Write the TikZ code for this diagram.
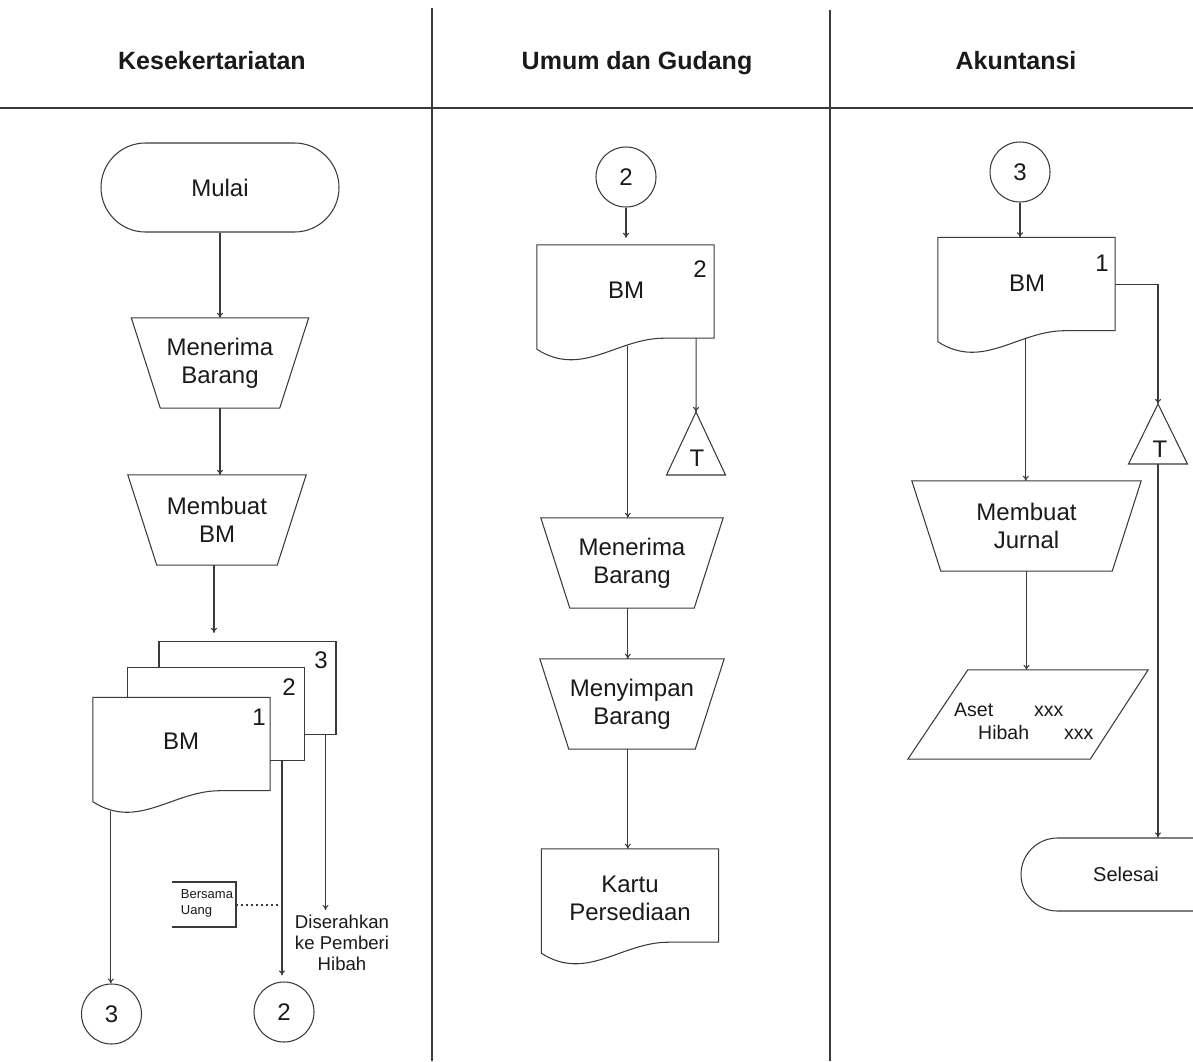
\documentclass[tikz,border=0pt]{standalone}
\usepackage{fontspec}
\setmainfont{Liberation Sans}
\usetikzlibrary{arrows.meta,calc,shapes.misc}
\definecolor{lc}{HTML}{3A3A3A}
\definecolor{tc}{HTML}{1A1A1A}
\tikzset{
 ln/.style={draw=lc, line width=1.05pt},
 arr/.style={ln, -{To[length=5pt,width=6pt]}},
 txt/.style={text=tc, font=\fontsize{24}{28}\selectfont, align=center, inner sep=0},
 hdr/.style={text=tc, font=\bfseries\fontsize{25}{30}\selectfont, inner sep=0, anchor=base},
 term/.style={rounded rectangle, ln, txt, minimum width=238, minimum height=89},
 conn/.style={circle, ln, txt, minimum size=60},
 docbox/.style={rectangle, minimum width=177, minimum height=93, inner sep=0},
 trapbox/.style={rectangle, txt, minimum height=90},
 num/.style={txt},
 dotl/.style={ln, dash pattern=on 2pt off 3pt},
}
\newcommand\trapshape[1]{\draw[ln] (#1.north west) -- (#1.north east) -- ($(#1.south east)+(-29,0)$) -- ($(#1.south west)+(29,0)$) -- cycle;}
\newcommand\docshape[1]{\draw[ln, fill=white] (#1.south east) -- (#1.north east) -- (#1.north west) -- ($(#1.south west)+(0,11)$) .. controls ($(#1.south west)+(45,40)$) and ($(#1.south west)+(80,0)$) .. ($(#1.south west)+(127,0)$) -- cycle;}
\begin{document}
\begin{tikzpicture}[x=1pt,y=-1pt]
\useasboundingbox[fill=white] (0,0) rectangle (1193,1061);
% lanes
\draw[ln] (0,108) -- (1193,108);
\draw[ln] (432,8) -- (432,1061);
\draw[ln] (830,10) -- (830,1061);
\node[hdr] (h1) at (212,69) {Kesekertariatan};
\node[hdr] (h2) at (637,69) {Umum dan Gudang};
\node[hdr] (h3) at (1016,69) {Akuntansi};

% ---- Lane 1
\node[term] (mulai) at (220,187.5) {Mulai};
\node[trapbox, minimum width=177] (mt1) at (220,363) {Menerima\\Barang};
\trapshape{mt1}
\node[trapbox, minimum width=178] (mbm1) at (217,520) {Membuat\\BM};
\trapshape{mbm1}
\draw[arr] (mulai.south) -- (mulai.south |- mt1.north);
\draw[arr] (mt1.south) -- (mt1.south |- mbm1.north);

\node[docbox, ln, fill=white] (d3) at (247.5,688) {};
\node[num] (n3) at (321,660) {3};
\node[docbox, ln, fill=white] (d2) at (216,714) {};
\node[num] (n2) at (289,687) {2};
\node[docbox] (d1) at (181.5,744) {};
\docshape{d1}
\node[txt] (d1t) at (181,741) {BM};
\node[num] (n1) at (259,717) {1};
\coordinate (mbo) at ($(mbm1.south)+(-3,0)$);
\draw[arr, shorten >=8pt] (mbo) -- (mbo |- d3.north);

\coordinate (d1o) at ($(d1.south west)+(18,20)$);
\node[conn] (c3a) at (111.5,1014) {3};
\draw[arr] (d1o) -- (d1o |- c3a.north);
\coordinate (d2o) at ($(d2.south west)+(155,0)$);
\node[conn] (c2a) at (284,1012) {2};
\draw[arr, shorten >=6pt] (d2o) -- (d2o |- c2a.north);
\coordinate (d3o) at ($(d3.south west)+(167,0)$);
\node[txt, font=\fontsize{18.6}{21}\selectfont, inner ysep=5pt] (dis) at (342,943) {Diserahkan\\ke Pemberi\\Hibah};
\draw[arr] (d3o) -- (d3o |- dis.north);

\node[txt, font=\fontsize{13}{16}\selectfont, align=left] (bers) at (207,903) {Bersama\\Uang};
\draw[ln] ($(bers.center)+(-35,-21)$) -- ($(bers.center)+(29,-21)$) -- ($(bers.center)+(29,24)$) -- ($(bers.center)+(-35,24)$);
\coordinate (bE) at ($(bers.center)+(29,2)$);
\draw[dotl] (bE) -- (bE -| d2o);

% ---- Lane 2
\node[conn] (c2b) at (626,177) {2};
\node[docbox] (bm2) at (625.5,291.5) {};
\docshape{bm2}
\node[txt] (bm2t) at (626,290) {BM};
\node[num] (bm2n) at (700,269) {2};
\draw[arr, shorten >=7pt] (c2b.south) -- (c2b.south |- bm2.north);
\coordinate (bm2o) at ($(bm2.south west)+(91,8)$);
\coordinate (bm2r) at ($(bm2.south east)+(-18,0)$);
\coordinate (t2) at (696,412);
\draw[arr] (bm2r) -- (t2);
\draw[ln] (t2) -- ++(-29.5,63) -- ++(59,0) -- cycle;
\node[txt] (t2t) at (697,458) {T};
\node[trapbox, minimum width=182] (mt2) at (632,563) {Menerima\\Barang};
\trapshape{mt2}
\draw[arr] (bm2o) -- (bm2o |- mt2.north);
\node[trapbox, minimum width=184] (ms2) at (632,704) {Menyimpan\\Barang};
\trapshape{ms2}
\draw[arr] (bm2o |- mt2.south) -- (bm2o |- ms2.north);
\node[docbox] (kp) at (630,895.5) {};
\docshape{kp}
\node[txt] (kpt) at (630,898) {Kartu\\Persediaan};
\draw[arr] (bm2o |- ms2.south) -- (bm2o |- kp.north);

% ---- Lane 3
\node[conn] (c3b) at (1020,172) {3};
\node[docbox] (bm3) at (1026.5,284) {};
\docshape{bm3}
\node[txt] (bm3t) at (1027,283) {BM};
\node[num] (bm3n) at (1102,263) {1};
\draw[arr] (c3b.south) -- (c3b.south |- bm3.north);
\coordinate (bm3o) at ($(bm3.south west)+(88,8)$);
\coordinate (t3) at (1158,404);
\draw[arr] ($(bm3.north east)+(0,47)$) -| (t3);
\draw[ln] (t3) -- ++(-29.5,60) -- ++(59,0) -- cycle;
\node[txt] (t3t) at (1160,449) {T};
\node[trapbox, minimum width=229] (mj) at (1026.5,526) {Membuat\\Jurnal};
\trapshape{mj}
\draw[arr] (bm3o) -- (bm3o |- mj.north);
\node[minimum width=240, minimum height=89, inner sep=0] (par) at (1028,714.5) {};
\draw[ln] ($(par.north west)+(60,0)$) -- (par.north east) -- ($(par.south east)+(-58,0)$) -- (par.south west) -- cycle;
\node[txt, font=\fontsize{19.5}{23}\selectfont, align=left, anchor=west] (part) at (954,721.5) {Aset\hspace{41pt}xxx\\\hspace*{24pt}Hibah\hspace{35pt}xxx};
\draw[arr] (mj.south) -- (mj.south |- par.north);
\begin{scope}
\clip (0,0) rectangle (1193,1061);
\node[term, minimum width=210, minimum height=73, font=\fontsize{20}{24}\selectfont] (sel) at (1126,874.5) {Selesai};
\end{scope}
\draw[arr] ($(t3)+(0,60)$) -- (t3 |- sel.north);
\end{tikzpicture}
\end{document}
